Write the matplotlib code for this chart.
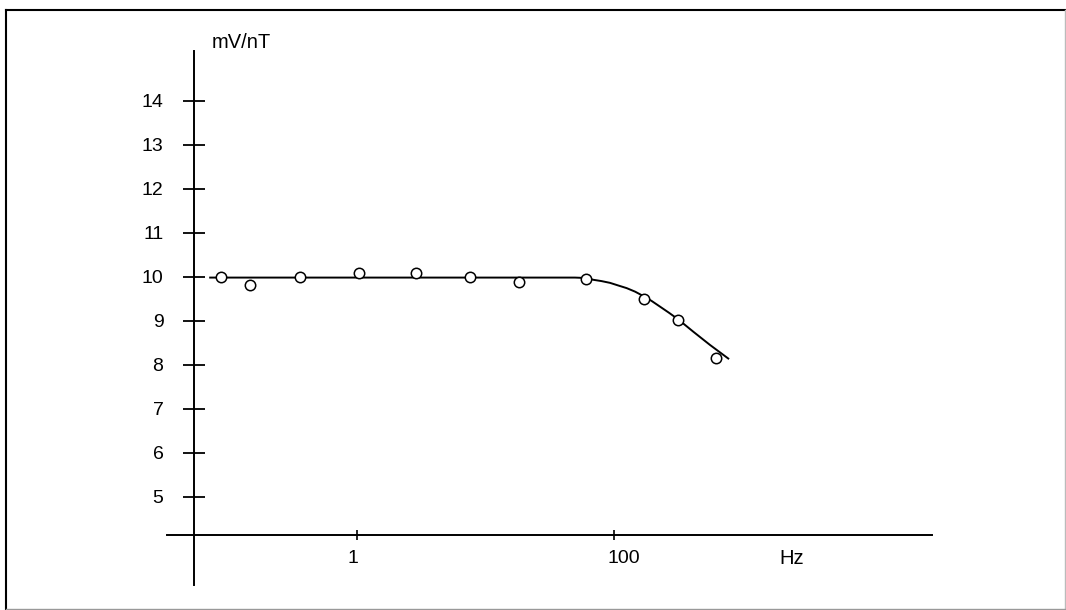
import matplotlib.pyplot as plt
from matplotlib.lines import Line2D
from matplotlib.transforms import ScaledTranslation

plt.rcParams['font.family'] = ['Liberation Sans', 'DejaVu Sans']

# Data
freq_hz = [0.087, 0.147, 0.36, 1.04, 2.86, 7.6, 18.2, 60.5, 172, 316, 622]
sens = [10.0, 9.81, 10.0, 10.09, 10.09, 10.0, 9.88, 9.94, 9.49, 9.01, 8.16]

# fitted response curve
curve_hz = [0.072, 1.0, 10.0, 49.7, 60.5, 69.0, 80.0, 93.1, 108, 125.6, 146,
            169.2, 196, 228, 268, 316, 414, 558, 775]
curve_val = [9.98, 9.98, 9.98, 9.98, 9.97, 9.93, 9.90, 9.86, 9.80, 9.74, 9.66,
             9.56, 9.45, 9.32, 9.18, 9.03, 8.75, 8.45, 8.14]

y_ticks = [5, 6, 7, 8, 9, 10, 11, 12, 13, 14]
x_ticks = [1, 100]
x_labels = ["1", "100"]

# Pixel calibration of the original drawing (1066 x 610)
W, H = 1066, 610
x1_px, dec_px = 357, 128.5      # pixel of 1 Hz, pixels per decade
y14_px, unit_px = 100.7, 44.0   # pixel of 14 mV/nT, pixels per unit


def hz(px):
    return 10 ** ((px - x1_px) / dec_px)


def val(py):
    return 14 - (py - y14_px) / unit_px


fig = plt.figure(figsize=(W / 100, H / 100), dpi=100)
ax = fig.add_axes([0, 0, 1, 1])
ax.set_xscale("log")
ax.set_xlim(hz(0), hz(W))
ax.set_ylim(val(H), val(0))
ax.patch.set_alpha(0)

# axis lines crossing each other
for s in ["top", "right"]:
    ax.spines[s].set_visible(False)
ax.spines["left"].set_position(("data", hz(194)))
ax.spines["left"].set_bounds(val(585), val(51))
ax.spines["bottom"].set_position(("data", val(535)))
ax.spines["bottom"].set_bounds(hz(167), hz(932))
for s in ["left", "bottom"]:
    ax.spines[s].set_linewidth(1.4)

ax.set_yticks(y_ticks)
ax.set_yticklabels([str(t) for t in y_ticks])
ax.tick_params(axis="y", direction="inout", length=16, width=1.3,
               pad=14, labelsize=14)
ax.set_xticks(x_ticks)
ax.set_xticklabels(x_labels)
ax.xaxis.set_minor_locator(plt.NullLocator())
ax.tick_params(axis="x", direction="inout", length=7.7, width=1.2,
               pad=7, labelsize=14)
# the original prints the x labels slightly off the tick marks
for lbl, dx in zip(ax.get_xticklabels(), [-4, 10]):
    lbl.set_transform(lbl.get_transform() + ScaledTranslation(dx / 100, 0, fig.dpi_scale_trans))

# curve and measured points
ax.plot(curve_hz, curve_val, color="black", lw=1.4)
ax.plot(freq_hz, sens, "o", mfc="white", mec="black", mew=1.1, ms=7.5)

ax.text(hz(241), val(43), "mV/nT", fontsize=14.5, ha="center", va="center")
ax.text(hz(792), val(559), "Hz", fontsize=14.5, ha="center", va="center")

# frame around the figure
fig.add_artist(Line2D([6 / W, 6 / W], [1 - 9.5 / H, 1 - 609 / H], color="black", lw=1.5))
fig.add_artist(Line2D([6 / W, 1065 / W], [1 - 9.5 / H, 1 - 9.5 / H], color="black", lw=1.5))
fig.add_artist(Line2D([1065 / W, 1065 / W], [1 - 9.5 / H, 1 - 609 / H], color="#bbbbbb", lw=1.0))
fig.add_artist(Line2D([6 / W, 1065 / W], [1 - 608.5 / H, 1 - 608.5 / H], color="#999999", lw=1.0))

fig.savefig("out.png", dpi=100)
